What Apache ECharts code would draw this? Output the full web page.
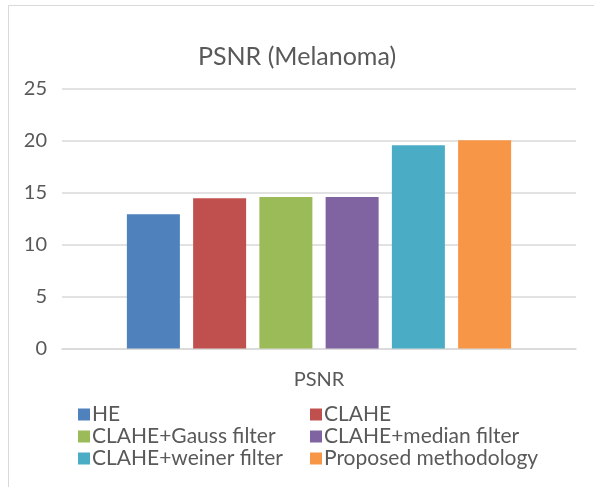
<!DOCTYPE html>
<html><head><meta charset="utf-8">
<script src="https://cdn.jsdelivr.net/npm/echarts@6/dist/echarts.min.js"></script>
<style>html,body{margin:0;padding:0;background:#fff}#c{width:594px;height:487px}</style>
</head><body><div id="c"></div>
<script>
const categories = ['PSNR'];
const seriesNames = ['HE','CLAHE','CLAHE+Gauss filter','CLAHE+median filter','CLAHE+weiner filter','Proposed methodology'];
const seriesValues = [12.93, 14.47, 14.57, 14.57, 19.57, 20.05];
const seriesColors = ['#4f81bd','#c0504d','#9bbb59','#8064a2','#4bacc6','#f79646'];
const yTicks = {min:0, max:25, interval:5};

const font = "Lato, 'Open Sans', sans-serif";
const chart = echarts.init(document.getElementById('c'));
chart.setOption({
  animation:false,
  color: seriesColors,
  title:{text:'PSNR (Melanoma)', left:'center', top:39, textStyle:{fontFamily:font, fontSize:25, fontWeight:'normal', color:'#595959'}},
  graphic:[{type:'rect', shape:{x:8.5,y:5.5,width:620,height:520}, style:{fill:'none', stroke:'#d9d9d9', lineWidth:1}, silent:true}],
  grid:{left:62, right:18, top:88.7, bottom:138.5},
  xAxis:{type:'category', data:categories, axisLine:{lineStyle:{color:'#d9d9d9', width:1.5}}, axisTick:{show:false},
    axisLabel:{fontFamily:font, fontSize:20, color:'#595959', margin:21}},
  yAxis:{type:'value', min:yTicks.min, max:yTicks.max, interval:yTicks.interval, axisLine:{show:false}, axisTick:{show:false},
    splitLine:{lineStyle:{color:'#d9d9d9', width:1.5}},
    axisLabel:{fontFamily:font, fontSize:20, color:'#595959', margin:15}},
  legend:[
    {orient:'vertical', left:73, top:399, itemWidth:12, itemHeight:12, itemGap:1, icon:'rect',
     data:[seriesNames[0], seriesNames[2], seriesNames[4]],
     textStyle:{fontFamily:font, fontSize:21, color:'#595959', padding:[0,0,0,-3]}},
    {orient:'vertical', left:305, top:399, itemWidth:12, itemHeight:12, itemGap:1, icon:'rect',
     data:[seriesNames[1], seriesNames[3], seriesNames[5]],
     textStyle:{fontFamily:font, fontSize:21, color:'#595959', padding:[0,0,0,-3]}}
  ],
  series: seriesNames.map((n,i)=>({name:n, type:'bar', data:[seriesValues[i]], barWidth:53, barGap:'25%', barCategoryGap:'25%', itemStyle:{color:seriesColors[i]}}))
});
</script></body></html>
